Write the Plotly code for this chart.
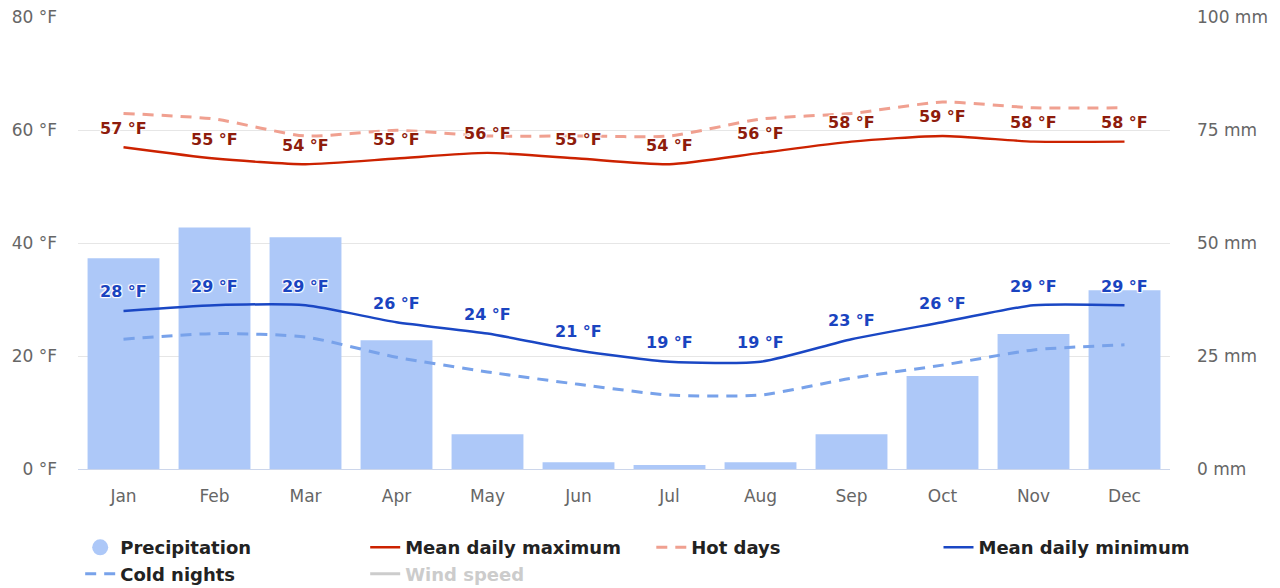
import plotly.graph_objects as go

# ==========================================================
# Data
# ==========================================================

months = ["Jan", "Feb", "Mar", "Apr", "May", "Jun",
          "Jul", "Aug", "Sep", "Oct", "Nov", "Dec"]

precipitation_mm = [46.7, 53.5, 51.3, 28.5, 7.7, 1.5,
                    0.9, 1.5, 7.7, 20.6, 29.9, 39.6]

mean_daily_max = [57, 55, 54, 55, 56, 55, 54, 56, 58, 59, 58, 58]
hot_days = [63, 62, 59, 60, 59, 59, 59, 62, 63, 65, 64, 64]

mean_daily_min = [28, 29, 29, 26, 24, 21, 19, 19, 23, 26, 29, 29]
cold_nights = [23, 24, 23.4, 19.8, 17.2, 15, 13.1, 13.1, 16.1, 18.4, 21.1, 22]

left_ticks = [0, 20, 40, 60, 80]
right_ticks = [0, 25, 50, 75, 100]

FONT = "DejaVu Sans"
HALO = ("1px 1px 1px #fff, -1px -1px 1px #fff, "
        "1px -1px 1px #fff, -1px 1px 1px #fff")

# ==========================================================
# Figure
# ==========================================================

fig = go.Figure()

# bars on the primary (mm) axis so the temperature lines sit on top
fig.add_trace(
    go.Bar(
        x=months,
        y=precipitation_mm,
        yaxis="y",
        marker=dict(color="#adc8f8", line=dict(width=0)),
        showlegend=False,
        name="Precipitation"
    )
)

# legend entry with a round symbol, like the original
fig.add_trace(
    go.Scatter(
        x=[None], y=[None],
        mode="markers",
        marker=dict(color="#adc8f8", size=18, symbol="circle"),
        name="Precipitation",
        legend="legend"
    )
)

fig.add_trace(
    go.Scatter(
        x=months, y=mean_daily_max,
        yaxis="y2",
        mode="lines",
        line=dict(color="#cc2200", width=2.4, shape="spline", smoothing=0.6),
        name="Mean daily maximum",
        legend="legend2"
    )
)

fig.add_trace(
    go.Scatter(
        x=months, y=hot_days,
        yaxis="y2",
        mode="lines",
        line=dict(color="#f0a090", width=3, dash="11px,8px",
                  shape="spline", smoothing=0.6),
        name="Hot days",
        legend="legend3"
    )
)

fig.add_trace(
    go.Scatter(
        x=months, y=mean_daily_min,
        yaxis="y2",
        mode="lines",
        line=dict(color="#1a47c4", width=2.5, shape="spline", smoothing=0.6),
        name="Mean daily minimum",
        legend="legend4"
    )
)

fig.add_trace(
    go.Scatter(
        x=months, y=cold_nights,
        yaxis="y2",
        mode="lines",
        line=dict(color="#78a2ea", width=3, dash="11px,8px",
                  shape="spline", smoothing=0.6),
        name="Cold nights",
        legend="legend"
    )
)

fig.add_trace(
    go.Scatter(
        x=[None], y=[None],
        yaxis="y2",
        mode="lines",
        line=dict(color="#cccccc", width=3),
        name="<span style='color:#cccccc'>Wind speed</span>",
        legend="legend2"
    )
)

# data labels
for m, v in zip(months, mean_daily_max):
    fig.add_annotation(
        x=m, y=v, yref="y2", text=f"{v} °F",
        showarrow=False, yshift=19,
        font=dict(family=FONT, size=16, color="#8e1c0c",
                  weight="bold", shadow=HALO)
    )

for m, v in zip(months, mean_daily_min):
    fig.add_annotation(
        x=m, y=v, yref="y2", text=f"{v} °F",
        showarrow=False, yshift=19,
        font=dict(family=FONT, size=16, color="#1a44c0",
                  weight="bold", shadow=HALO)
    )

# four legend columns, as in the original
legend_style = dict(
    orientation="v",
    y=-0.133,
    xanchor="left",
    yanchor="top",
    tracegroupgap=0,
    font=dict(family=FONT, size=18, color="#222222", weight="bold"),
    bgcolor="rgba(0,0,0,0)",
)

# the page body adds an 8px offset, so the figure is 8px smaller
fig.update_layout(
    width=1272,
    height=580,
    template="plotly_white",
    plot_bgcolor="white",
    paper_bgcolor="white",
    font=dict(family=FONT, color="#666666"),
    margin=dict(l=70, r=110, t=9, b=119, autoexpand=False),
    bargap=0.21,
    xaxis=dict(
        showgrid=False,
        showline=True,
        linecolor="#ccd6eb",
        linewidth=1,
        tickfont=dict(size=17, color="#666666"),
        ticks="",
        ticklabelstandoff=12,
        automargin=False,
    ),
    yaxis=dict(
        range=[0, 100.1],
        side="right",
        tickvals=right_ticks,
        ticktext=[f"{t} mm" for t in right_ticks],
        gridcolor="#e6e6e6",
        gridwidth=1,
        zeroline=False,
        tickfont=dict(size=17, color="#666666"),
        ticklabelstandoff=26,
        ticklabeloverflow="allow",
        automargin=False,
    ),
    yaxis2=dict(
        range=[0, 80.08],
        overlaying="y",
        side="left",
        tickvals=left_ticks,
        ticktext=[f"{t} °F" for t in left_ticks],
        showgrid=False,
        zeroline=False,
        tickfont=dict(size=17, color="#666666"),
        ticklabelstandoff=20,
        ticklabeloverflow="allow",
        automargin=False,
    ),
    legend=dict(legend_style, x=0.002),
    legend2=dict(legend_style, x=0.263),
    legend3=dict(legend_style, x=0.525),
    legend4=dict(legend_style, x=0.788),
)

fig.write_html("out.html")
